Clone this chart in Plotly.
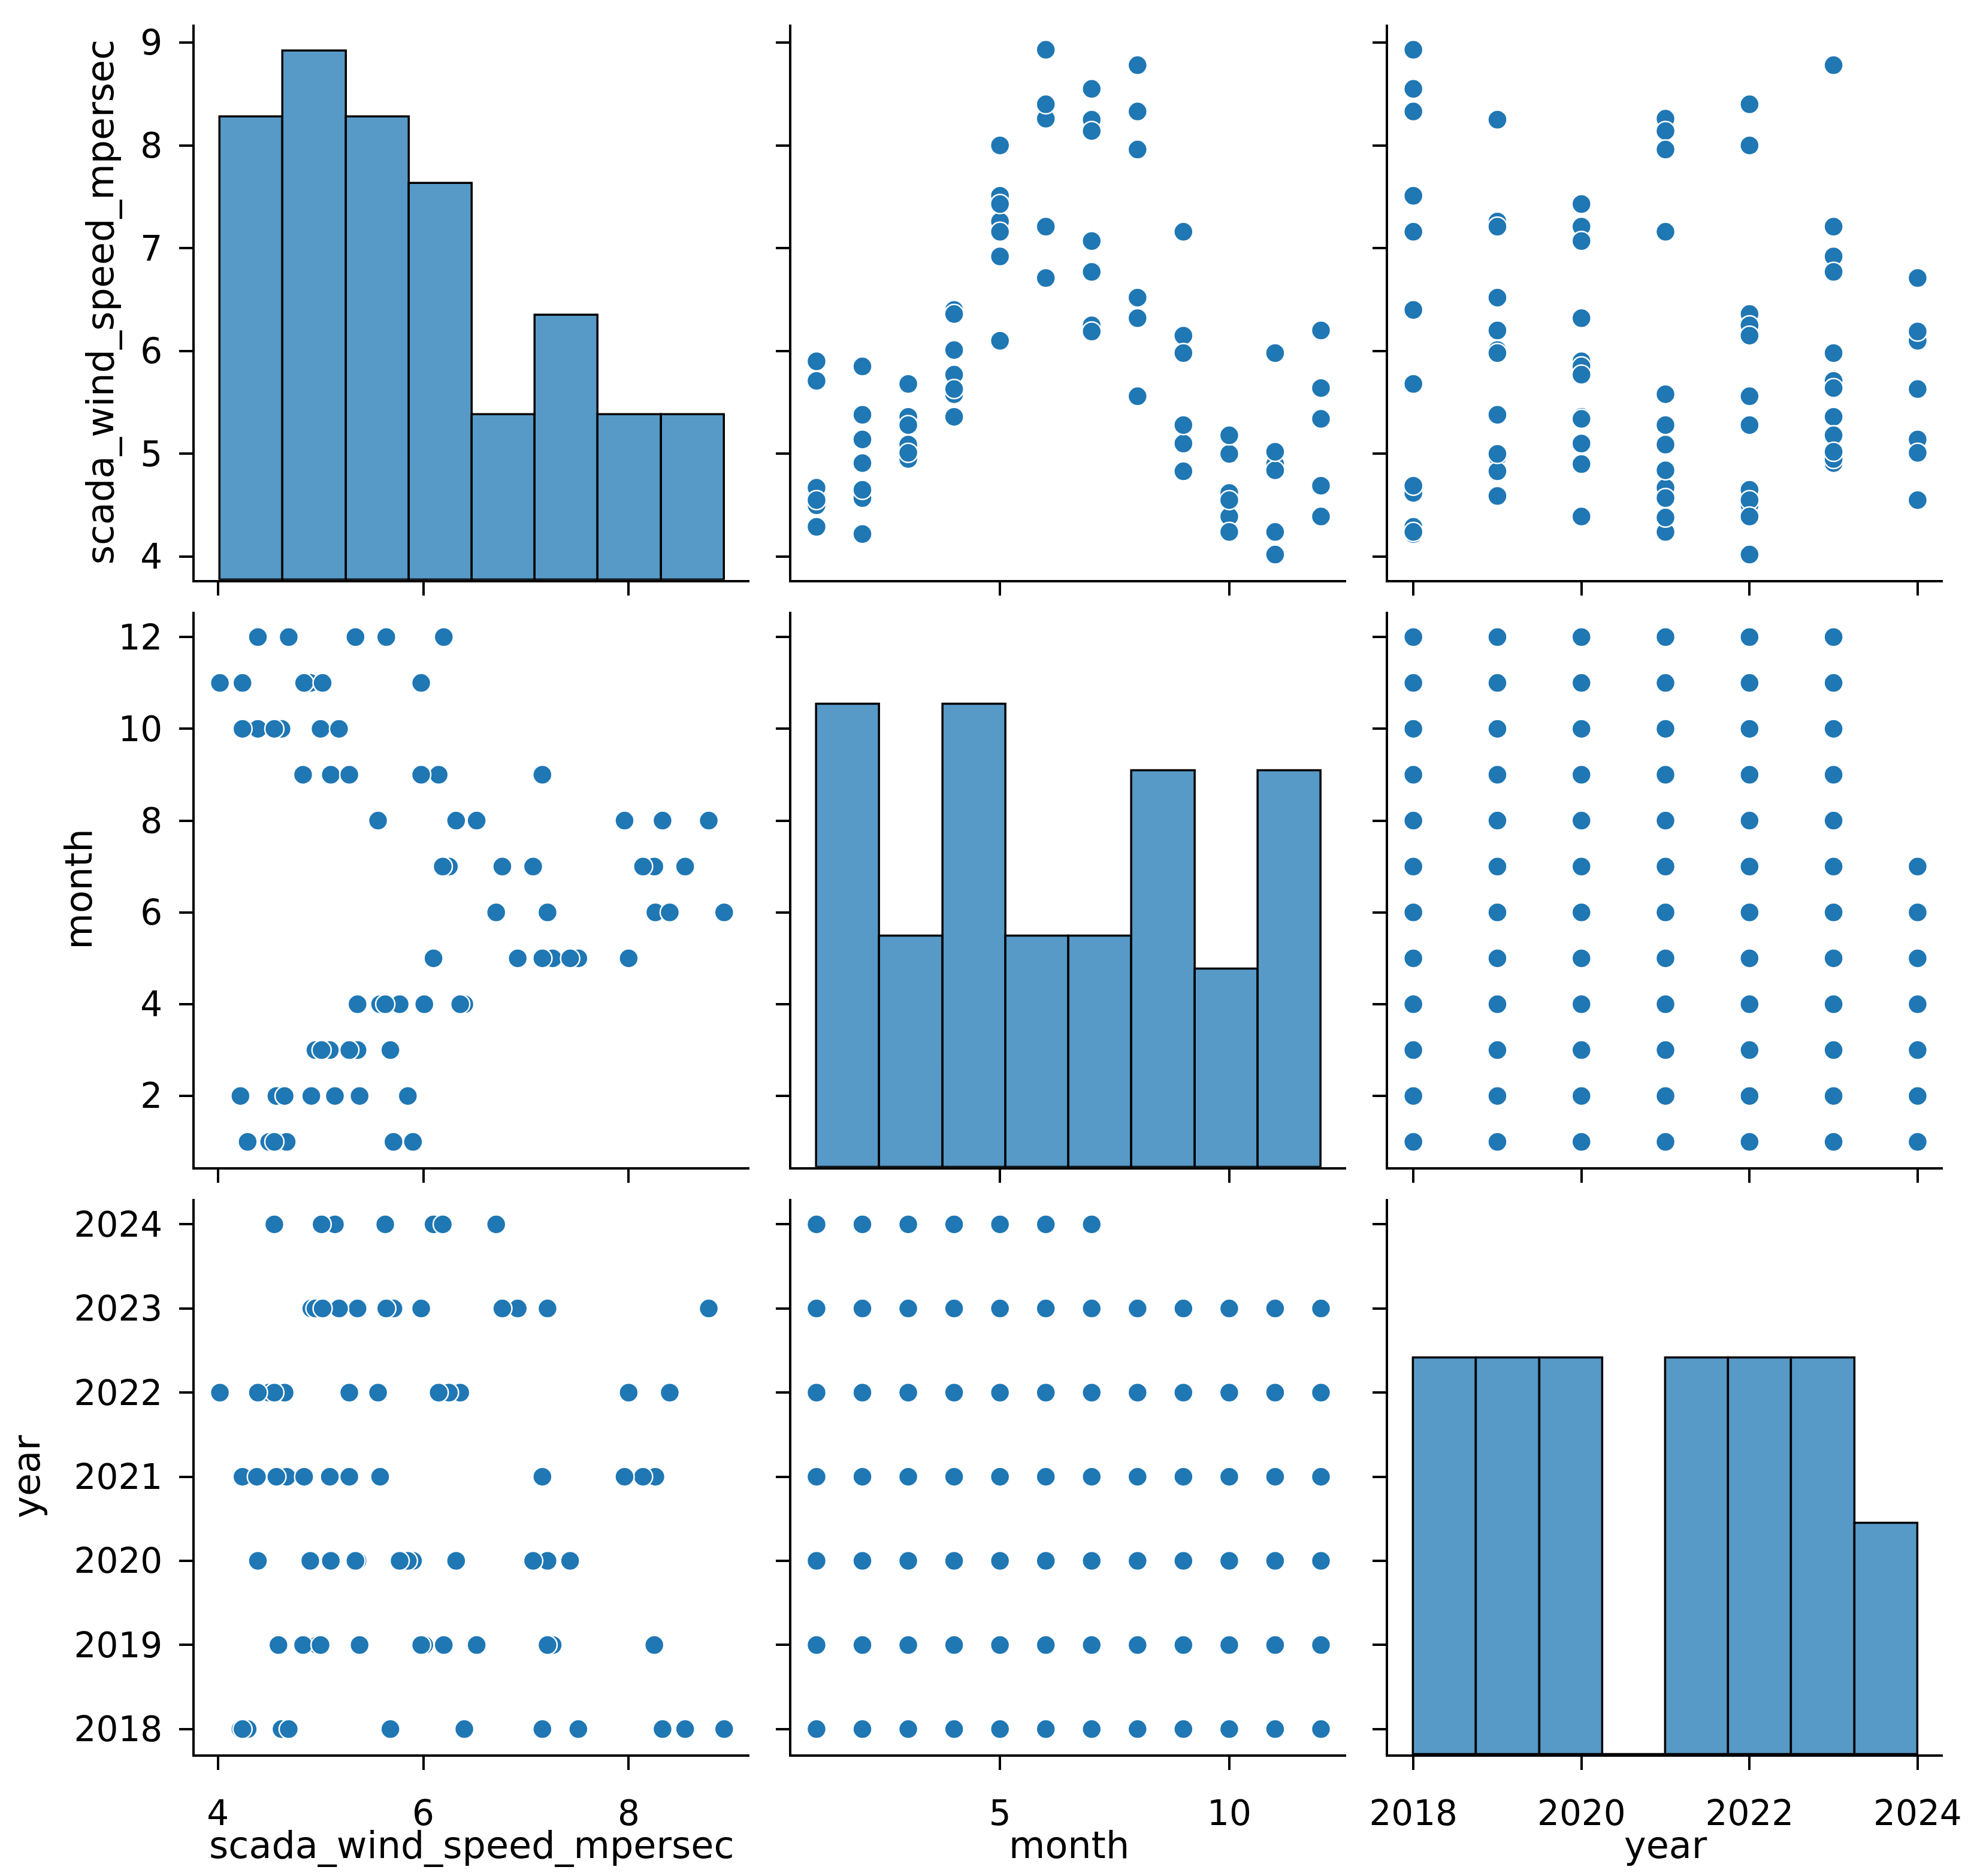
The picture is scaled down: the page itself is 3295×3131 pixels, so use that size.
import numpy as np
import plotly.graph_objects as go

# monthly mean wind speed (m/s), January first
wind_2018 = [4.29, 4.22, 5.68, 6.40, 7.51, 8.93, 8.55, 8.33, 7.16, 4.62, 4.24, 4.69]
wind_2019 = [4.59, 5.38, 4.97, 6.01, 7.26, 7.21, 8.25, 6.52, 4.83, 5.00, 5.98, 6.20]
wind_2020 = [5.90, 5.85, 5.36, 5.77, 7.43, 7.21, 7.07, 6.32, 5.10, 4.39, 4.90, 5.34]
wind_2021 = [4.67, 4.57, 5.09, 5.58, 7.16, 8.26, 8.14, 7.96, 5.28, 4.24, 4.84, 4.38]
wind_2022 = [4.50, 4.65, 5.28, 6.36, 8.00, 8.40, 6.25, 5.56, 6.15, 4.55, 4.02, 4.39]
wind_2023 = [5.71, 4.91, 4.95, 5.36, 6.92, 7.21, 6.77, 8.78, 5.98, 5.18, 5.02, 5.64]
wind_2024 = [4.55, 5.14, 5.01, 5.63, 6.10, 6.71, 6.19]

wind_by_year = {2018: wind_2018, 2019: wind_2019, 2020: wind_2020, 2021: wind_2021,
                2022: wind_2022, 2023: wind_2023, 2024: wind_2024}

wind, month, year = [], [], []
for yr, vals in wind_by_year.items():
    for m, v in enumerate(vals, start=1):
        wind.append(v)
        month.append(m)
        year.append(yr)

data = {"scada_wind_speed_mpersec": wind, "month": month, "year": year}
names = list(data)

x_ticks = {"scada_wind_speed_mpersec": [4, 6, 8], "month": [5, 10],
           "year": [2018, 2020, 2022, 2024]}
y_ticks = {"scada_wind_speed_mpersec": [4, 5, 6, 7, 8, 9], "month": [2, 4, 6, 8, 10, 12],
           "year": [2018, 2019, 2020, 2021, 2022, 2023, 2024]}

BLUE = "#1f77b4"
TICK_FONT = dict(family="DejaVu Sans", size=58, color="black")
LABEL_FONT = dict(family="DejaVu Sans", size=62, color="black")

x_dom = [[0.0, 0.3173], [0.3413, 0.6587], [0.6827, 1.0]]
y_dom = [[0.679, 1.0], [0.3395, 0.6605], [0.0, 0.321]]
# pixel offsets of the axis labels from the plot area edge
x_label_shift = -151
y_label_shift = [-158, -194, -280]


def padded(v):
    lo, hi = min(v), max(v)
    pad = (hi - lo) * 0.05
    return [lo - pad, hi + pad]


axis_common = dict(showline=True, linecolor="black", linewidth=4.4, ticks="outside",
                   ticklen=22, tickwidth=4.4, tickcolor="black", showgrid=False,
                   zeroline=False, tickfont=TICK_FONT, automargin=False, mirror=False)

# diagonal histograms share one count scale, like seaborn's pairplot
hists = [np.histogram(data[n], bins=8) for n in names]
count_top = max(h[0].max() for h in hists) * 1.05

fig = go.Figure()
layout = {}
for r in range(3):
    for c in range(3):
        k = r * 3 + c + 1
        sfx = "" if k == 1 else str(k)
        xa, ya = "x" + sfx, "y" + sfx
        xv, yv = data[names[c]], data[names[r]]

        layout["xaxis" + sfx] = dict(
            axis_common, domain=x_dom[c], anchor=ya, range=padded(xv),
            tickvals=x_ticks[names[c]], showticklabels=(r == 2), ticklabelstandoff=22)
        layout["yaxis" + sfx] = dict(
            axis_common, domain=y_dom[r], anchor=xa, range=padded(yv),
            tickvals=y_ticks[names[r]], showticklabels=(c == 0), ticklabelstandoff=16)

        if r == c:
            counts, edges = hists[r]
            cnt_ax = str(10 + r)
            layout["yaxis" + cnt_ax] = dict(overlaying=ya, anchor=xa, visible=False,
                                            range=[0, count_top])
            fig.add_trace(go.Scatter(x=[None], y=[None], xaxis=xa, yaxis=ya,
                                     showlegend=False, hoverinfo="skip"))
            fig.add_trace(go.Bar(
                x=(edges[:-1] + edges[1:]) / 2, y=counts, width=np.diff(edges),
                marker=dict(color="rgba(31,119,180,0.75)",
                            line=dict(color="black", width=3.5)),
                xaxis=xa, yaxis="y" + cnt_ax, showlegend=False))
        else:
            fig.add_trace(go.Scatter(
                x=xv, y=yv, mode="markers", xaxis=xa, yaxis=ya, showlegend=False,
                marker=dict(color=BLUE, size=32, line=dict(color="white", width=2.5))))

annotations = []
for i, n in enumerate(names):
    annotations.append(dict(text=n, xref="paper", yref="paper",
                            x=sum(x_dom[i]) / 2, y=0, yshift=x_label_shift,
                            xanchor="center", yanchor="middle", showarrow=False,
                            font=LABEL_FONT))
    annotations.append(dict(text=n, xref="paper", yref="paper", textangle=-90,
                            x=0, y=sum(y_dom[i]) / 2, xshift=y_label_shift[i],
                            xanchor="center", yanchor="middle", showarrow=False,
                            font=LABEL_FONT))

fig.update_layout(**layout)
fig.update_layout(width=3295, height=3131, autosize=False,
                  margin=dict(l=317, r=60, t=33, b=211),
                  paper_bgcolor="white", plot_bgcolor="white",
                  font=TICK_FONT, showlegend=False, bargap=0,
                  annotations=annotations)
fig.write_html("out.html")
